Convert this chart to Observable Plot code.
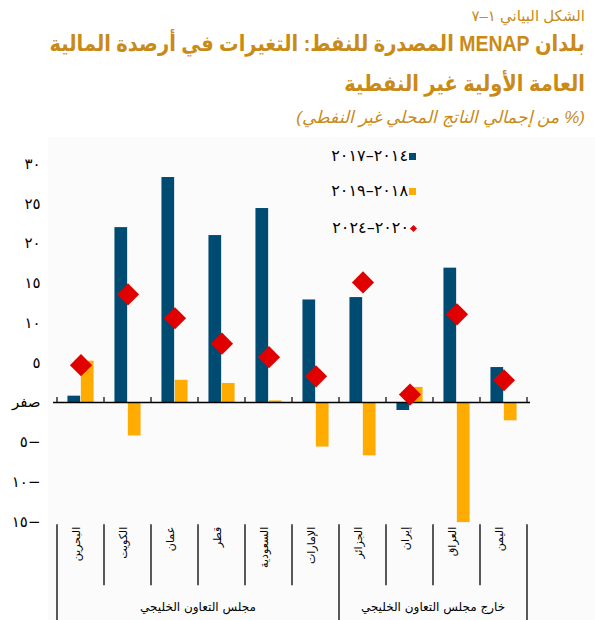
<!DOCTYPE html>
<html><head><meta charset="utf-8">
<script src="https://cdn.jsdelivr.net/npm/d3@7"></script>
<script src="https://cdn.jsdelivr.net/npm/@observablehq/plot@0.6"></script>
<style>
body{margin:0;width:595px;height:620px;position:relative;background:#fff;font-family:"Liberation Sans","DejaVu Sans",sans-serif;overflow:hidden}
.t{position:absolute;right:10px;white-space:nowrap;color:#c98a16;direction:rtl;line-height:1;transform-origin:right center}
#fig{top:8px;font-size:15px}
#t1{top:33px;font-size:22px;font-weight:bold;transform:scaleX(0.885)}
#t2{top:73px;font-size:22px;font-weight:bold;transform:scaleX(0.885)}
#sub{top:109px;font-size:17px;font-style:italic}
#bg{position:absolute;left:48px;top:137px;right:0;bottom:0;background:#fbfbfb}
#chart{position:absolute;left:0;top:140px}
.leg{position:absolute;right:179px;display:flex;align-items:center;font-family:"DejaVu Sans";font-size:16px;letter-spacing:3px;color:#000;line-height:1}
.sw{display:inline-block;width:7px;height:7px;margin-left:1px}
</style></head>
<body>
<div id="bg"></div>
<div class="t" id="fig">الشكل البياني ١–٧</div>
<div class="t" id="t1">بلدان MENAP المصدرة للنفط: التغيرات في أرصدة المالية</div>
<div class="t" id="t2">العامة الأولية غير النفطية</div>
<div class="t" id="sub">(% من إجمالي الناتج المحلي غير النفطي)</div>
<div id="chart"></div>
<div id="legend"></div>
<script>
const countries = ["البحرين","الكويت","عمان","قطر","السعودية","الإمارات","الجزائر","إيران","العراق","اليمن"];
const groups = ["مجلس التعاون الخليجي","مجلس التعاون الخليجي","مجلس التعاون الخليجي","مجلس التعاون الخليجي","مجلس التعاون الخليجي","مجلس التعاون الخليجي","خارج مجلس التعاون الخليجي","خارج مجلس التعاون الخليجي","خارج مجلس التعاون الخليجي","خارج مجلس التعاون الخليجي"];
const seriesNames = ["٢٠١٤–٢٠١٧","٢٠١٨–٢٠١٩","٢٠٢٠–٢٠٢٤"];
const p2014_17 = [0.8, 22.0, 28.3, 21.0, 24.4, 12.9, 13.2, -1.0, 16.9, 4.4];
const p2018_19 = [5.2, -4.2, 2.8, 2.4, 0.2, -5.6, -6.7, 1.9, -15.1, -2.3];
const p2020_24 = [4.7, 13.6, 10.6, 7.4, 5.7, 3.3, 15.1, 1.0, 11.1, 2.8];
const yTicks = [-15,-10,-5,0,5,10,15,20,25,30];
const yTickLabels = ["١٥−","١٠−","٥−","صفر","٥","١٠","١٥","٢٠","٢٥","٣٠"];

const colors = ["#004b72","#ffab00","#e00000"];
const table = countries.map((c,i)=>({country:c, group:groups[i], a:p2014_17[i], b:p2018_19[i], c:p2020_24[i]}));

const W = 595, H = 480, mL = 53, mR = 65, mT = 23.5, mB = 98.7;
const step = (W - mL - mR) / countries.length;
const barW = 13.4;

function decor(index, scales, values, dim) {
  const x = scales.x, y = scales.y;
  const st = x(countries[1]) - x(countries[0]);
  const bottom = dim.height - dim.marginBottom;
  const g = d3.create("svg:g");
  const bounds = countries.map((c,i)=>({pos:x(c), edge: i===0 || groups[i]!==groups[i-1]}));
  bounds.push({pos: x(countries[countries.length-1]) + st, edge:true});
  for (const b of bounds) {
    g.append("line").attr("x1",b.pos).attr("x2",b.pos).attr("y1",y(0)).attr("y2",y(0)-5).attr("stroke","#000").attr("stroke-width",1.2);
    g.append("line").attr("x1",b.pos).attr("x2",b.pos).attr("y1",bottom+3).attr("y2",b.edge ? dim.height : bottom+64).attr("stroke","#000").attr("stroke-width",1.3);
  }
  for (const name of [...new Set(groups)]) {
    const idx = groups.map((gr,i)=>gr===name?i:-1).filter(i=>i>=0);
    const cx = (x(countries[idx[0]]) + x(countries[idx[idx.length-1]]) + st)/2;
    g.append("text").attr("x",cx).attr("y",bottom+90).attr("text-anchor","middle").attr("fill","#000").attr("font-size",12).text(name);
  }
  return g.node();
}

const chart = Plot.plot({
  width: W, height: H,
  marginLeft: mL, marginRight: mR, marginTop: mT, marginBottom: mB,
  style: {background:"transparent", fontFamily:"DejaVu Sans"},
  x: {domain: countries, padding: 0},
  y: {domain: [-15, 30]},
  marks: [
    Plot.barY(table, {x:"country", y:"a", fill:colors[0], insetLeft: step/2 - barW, insetRight: step/2}),
    Plot.barY(table, {x:"country", y:"b", fill:colors[1], insetLeft: step/2, insetRight: step/2 - barW}),
    Plot.ruleY([0], {stroke:"#000", strokeWidth:1.5}),
    Plot.dot(table, {x:"country", y:"c", symbol:"diamond2", r:10, fill:colors[2], stroke:"none"}),
    Plot.axisY({ticks: yTicks, tickFormat: d => yTickLabels[yTicks.indexOf(d)], tickSize:0, tickPadding:13, fontSize:15, label:null}),
    Plot.axisX({tickRotate:-90, tickSize:0, tickPadding:5, fontSize:11, label:null, textAnchor:"end", lineAnchor:"middle", dx:-5}),
    decor
  ]
});
document.getElementById("chart").append(chart);

const legendTops = [148, 183, 220];
const leg = document.getElementById("legend");
seriesNames.forEach((name,i)=>{
  const row = document.createElement("div");
  row.className = "leg";
  row.style.top = legendTops[i] + "px";
  const t = document.createElement("span");
  t.textContent = name;
  const s = document.createElement("span");
  s.className = "sw";
  s.style.background = colors[i];
  if (i===2) { s.style.width="5px"; s.style.height="5px"; s.style.transform="rotate(45deg)"; s.style.marginLeft="2px"; }
  row.append(t, s);
  leg.append(row);
});
</script>
</body></html>
